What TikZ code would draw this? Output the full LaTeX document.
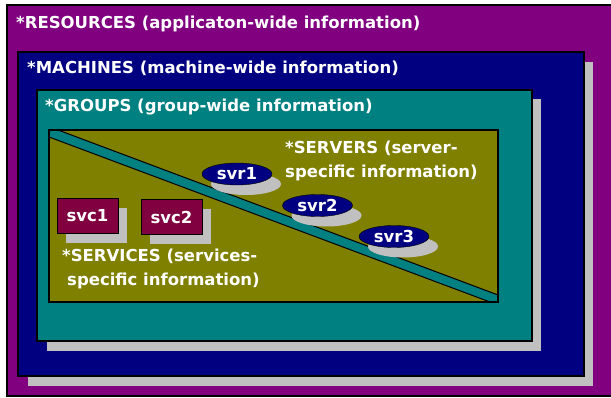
\documentclass[tikz,border=0pt]{standalone}
\usepackage{fontspec}
\setmainfont{DejaVu Sans}
\usetikzlibrary{shapes.geometric,shadows}
\definecolor{resPurple}{RGB}{128,0,128}
\definecolor{macNavy}{RGB}{0,0,128}
\definecolor{grpTeal}{RGB}{0,128,128}
\definecolor{srvOlive}{RGB}{128,128,0}
\definecolor{svcMaroon}{RGB}{128,0,64}
\definecolor{shadowGray}{RGB}{192,192,192}
\tikzset{
  infotext/.style={anchor=west,text=white,inner sep=0pt,align=left,
    font=\bfseries\fontsize{16.5}{24}\selectfont},
  grayshadow/.style={drop shadow={shadow xshift=9pt,shadow yshift=-10pt,fill=shadowGray,opacity=1}},
  svcbox/.style={draw=black,fill=svcMaroon,minimum width=61pt,minimum height=35pt,
    text=white,font=\bfseries\fontsize{16.5}{18}\selectfont,grayshadow},
  svrnode/.style={ellipse,draw=black,fill=macNavy,minimum width=70pt,minimum height=22pt,
    inner sep=0pt,text=white,font=\bfseries\fontsize{16.5}{18}\selectfont,grayshadow}
}
\begin{document}
\begin{tikzpicture}[x=1pt,y=-1pt]
\useasboundingbox (0,0) rectangle (611,398);
\fill[white] (0,0) rectangle (611,398);
\draw[fill=resPurple,line width=1.2pt] (7,5) rectangle (614,396);
\fill[shadowGray] (28,62) rectangle (593,386);
\draw[fill=macNavy,line width=1.2pt] (18,52) rectangle (584,376);
\fill[shadowGray] (47,99) rectangle (541,351);
\draw[fill=grpTeal,line width=1.2pt] (37,90) rectangle (532,341);
\draw[fill=srvOlive,line width=1.2pt] (49,130) rectangle (498,302);
\begin{scope}
\clip (49,130) rectangle (498,302);
\draw[fill=grpTeal,line width=1pt] (49,130) -- (58,130) -- (498,295) -- (498,302) -- (490,302) -- (49,137) -- cycle;
\end{scope}
\draw[line width=1.2pt] (49,130) rectangle (498,302);
\node[infotext] (resLabel) at (16,24) {*RESOURCES (applicaton-wide information)};
\node[infotext] (macLabel) at (27,68) {*MACHINES (machine-wide information)};
\node[infotext] (grpLabel) at (45,107) {*GROUPS (group-wide information)};
\node[infotext] (srvLabel) at (285,161) {*SERVERS (server-\\specific information)};
\node[infotext] (svcLabel) at (62,269) {*SERVICES (services-\\\hspace{5pt}specific information)};
\node[svcbox] (svcOne) at (87.5,215.5) {svc1};
\node[svcbox] (svcTwo) at (171.5,217) {svc2};
\node[svrnode] (svrOne) at (237,174) {svr1};
\node[svrnode] (svrTwo) at (317.5,205.5) {svr2};
\node[svrnode] (svrThree) at (394,236.5) {svr3};
\end{tikzpicture}
\end{document}
